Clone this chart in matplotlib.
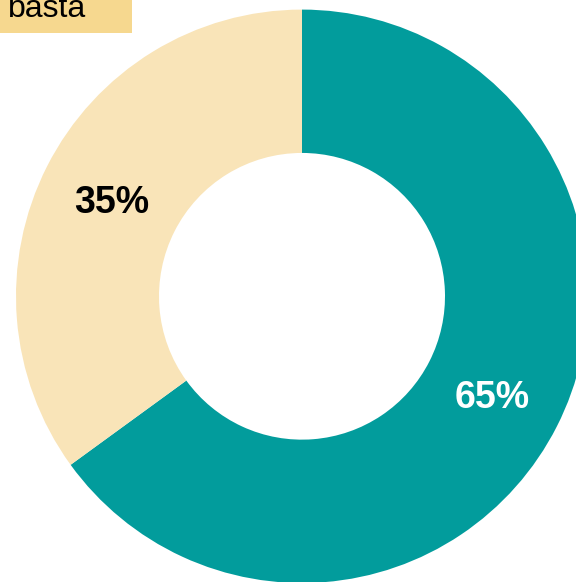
import numpy as np
import matplotlib.pyplot as plt
from matplotlib.patches import Rectangle

# share of answers
categories = ["altro", "basta"]
values = [65, 35]
pct_labels = ["65%", "35%"]
colors = ["#029C9C", "#F9E4B8"]
label_colors = ["white", "black"]

W, H = 576, 582
cx, cy, R = 302, 297, 286  # pixel centre / radius of the donut

fig = plt.figure(figsize=(W / 100, H / 100), dpi=100)
ax = fig.add_axes([0, 0, 1, 1])

wedges, _ = ax.pie(values, colors=colors, startangle=90, counterclock=False,
                   radius=1, wedgeprops=dict(width=0.5, linewidth=0))

for w, txt, c in zip(wedges, pct_labels, label_colors):
    ang = np.deg2rad((w.theta1 + w.theta2) / 2)
    ax.text(0.748 * np.cos(ang), 0.748 * np.sin(ang) - 0.015, txt, ha='center', va='center',
            fontsize=27, fontweight='bold', color=c, family='Liberation Sans')

ax.set_xlim(-cx / R, (W - cx) / R)
ax.set_ylim(-(H - cy) / R, cy / R - 0.005)
ax.set_aspect('auto')
ax.axis('off')

# legend-like tag in the corner
fig.patches.append(Rectangle((0, 1 - 33 / H), 132 / W, 40 / H, transform=fig.transFigure,
                             facecolor="#F6D88F", edgecolor='none', zorder=5))
fig.text(8 / W, 1 - 17 / H, categories[1], fontsize=23, va='baseline', ha='left',
         family='Liberation Sans', color='black', zorder=6)

fig.savefig("out.png", dpi=100)
